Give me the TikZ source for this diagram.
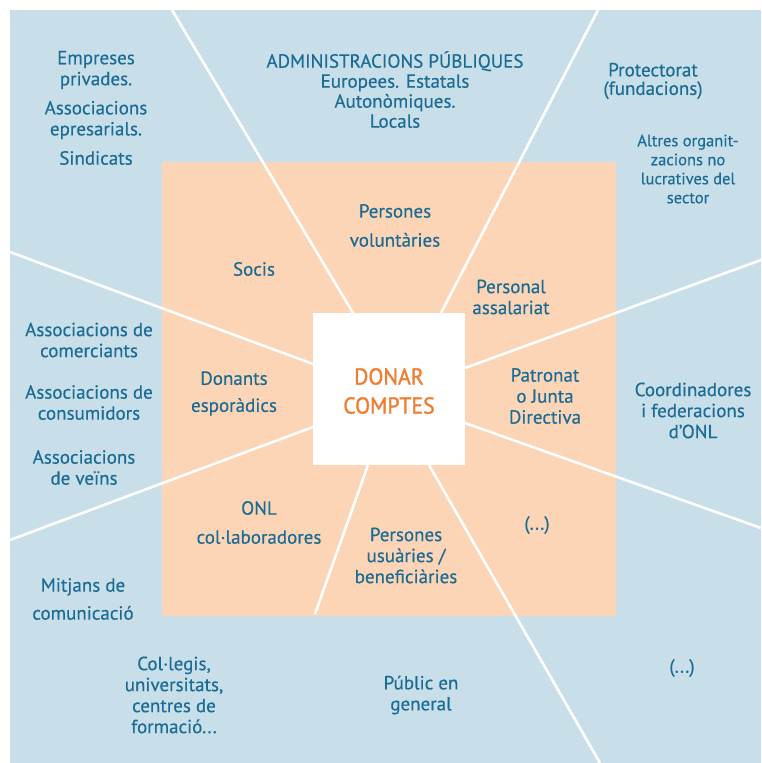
\documentclass[tikz,border=0pt]{standalone}
\usepackage{fontspec}
\setmainfont{PT Sans}[FakeBold=0.35]
\newfontface\medfont{PT Sans}[FakeBold=1.2,FakeStretch=0.95]
\definecolor{bgblue}{HTML}{C8DFEA}
\definecolor{peach}{HTML}{FBD5B6}
\definecolor{txt}{HTML}{1B6C94}
\definecolor{orng}{HTML}{F07C30}
\begin{document}
\begin{tikzpicture}[x=1pt,y=-1pt,
  lbl/.style={text=txt,align=center,inner sep=0pt,font=\fontsize{19}{21}\selectfont},
  small/.style={text=txt,align=center,inner sep=0pt,font=\fontsize{16.5}{19}\selectfont},
  ray/.style={draw=white,line width=2.6pt}]
\useasboundingbox (0,0) rectangle (761,763);
\fill[bgblue] (10,10) rectangle (761,763);
\fill[peach] (162,162) rectangle (616,616);
% rays
\coordinate (a1) at (172,10);   \coordinate (b1) at (353,313);
\coordinate (a2) at (598,10);   \coordinate (b2) at (441,313);
\coordinate (a3) at (761,260);  \coordinate (b3) at (465,368);
\coordinate (a4) at (10,252);   \coordinate (b4) at (313,364);
\coordinate (a5) at (10,540);   \coordinate (b5) at (313,427);
\coordinate (a6) at (315,614);  \coordinate (b6) at (368,465);
\coordinate (a7) at (600,763);  \coordinate (b7) at (429,465);
\coordinate (a8) at (761,528);  \coordinate (b8) at (465,423);
\foreach \i in {1,...,8} \draw[ray] (a\i) -- (b\i);
\node[fill=white,minimum size=152pt,inner sep=0pt] (core) at (389,389) {};
\node[text=orng,align=center,inner sep=0pt,font=\medfont\fontsize{23}{29}\selectfont] (dc) at (389,391) {DONAR\\COMPTES};
% outer
\node[lbl] (emp) at (96,70) {Empreses\\privades.};
\node[lbl] (aep) at (96,120) {Associacions\\epresarials.};
\node[lbl] (sin) at (96,158) {Sindicats};
\node[lbl,font=\fontsize{19}{20}\selectfont] (adm) at (395,89.5) {ADMINISTRACIONS PÚBLIQUES\\Europees. Estatals\\Autonòmiques.\\Locals};
\node[lbl,font=\fontsize{19}{18.5}\selectfont] (pro) at (653,81) {Protectorat\\(fundacions)};
\node[small] (alt) at (688,169) {Altres organit-\\zacions no\\lucratives del\\sector};
\node[lbl] (acm) at (89,340) {Associacions de\\comerciants};
\node[lbl] (acs) at (89,402.5) {Associacions de\\consumidors};
\node[lbl] (avn) at (84,467.5) {Associacions\\de veïns};
\node[lbl] (coo) at (693,410.5) {Coordinadores\\i federacions\\d’ONL};
\node[lbl,font=\fontsize{19}{28}\selectfont] (mit) at (83,599) {Mitjans de\\comunicació};
\node[lbl] (col) at (174,695) {Col·legis,\\universitats,\\centres de\\formació...};
\node[lbl] (pub) at (421,695) {Públic en\\general};
\node[lbl] (etc2) at (682,668) {(...)};
% inner
\node[lbl,font=\fontsize{19}{29}\selectfont] (vol) at (395,225.5) {Persones\\voluntàries};
\node[lbl] (soc) at (254,269) {Socis};
\node[lbl] (per) at (511,297) {Personal\\assalariat};
\node[lbl,font=\fontsize{19}{27}\selectfont] (don) at (234,393.5) {Donants\\esporàdics};
\node[lbl] (pat) at (545,396) {Patronat\\o Junta\\Directiva};
\node[lbl,font=\fontsize{19}{29}\selectfont] (onl) at (259,522.5) {ONL\\col·laboradores};
\node[lbl] (usu) at (406,555.5) {Persones\\usuàries /\\beneficiàries};
\node[lbl] (etc1) at (537,525) {(...)};
\end{tikzpicture}
\end{document}
